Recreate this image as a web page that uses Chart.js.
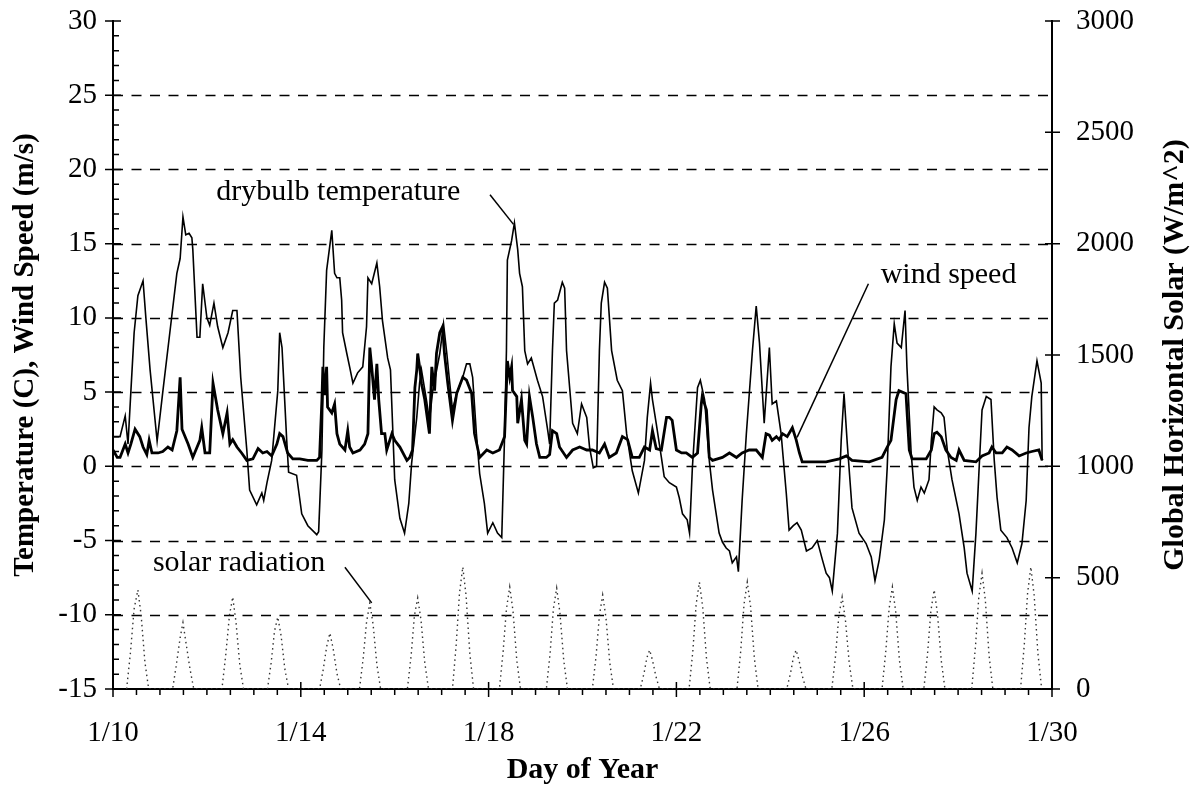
<!DOCTYPE html>
<html>
<head>
<meta charset="utf-8">
<script src="https://cdn.jsdelivr.net/npm/chart.js@4.4.1/dist/chart.umd.min.js"></script>
<style>
  html, body { margin: 0; padding: 0; background: #fff; }
  #wrap { width: 1197px; height: 791px; }
</style>
</head>
<body>
<div id="wrap"><canvas id="graph" width="1197" height="791"></canvas></div>
<script>
"use strict";

// drybulb temperature (C), day of year (1/10 = 10)
const temp_days = [
  10.00, 10.15, 10.26, 10.32, 10.38, 10.45, 10.53, 10.64, 10.70, 10.79,
  10.94, 11.06, 11.21, 11.36, 11.43, 11.49, 11.55, 11.62, 11.68, 11.70,
  11.79, 11.85, 11.91, 12.00, 12.06, 12.15, 12.23, 12.34, 12.45, 12.55,
  12.64, 12.72, 12.85, 12.91, 13.06, 13.17, 13.21, 13.28, 13.38, 13.51,
  13.55, 13.60, 13.70, 13.74, 13.91, 14.02, 14.15, 14.34, 14.38, 14.45,
  14.49, 14.55, 14.66, 14.72, 14.77, 14.83, 14.87, 14.89, 14.98, 15.04,
  15.11, 15.21, 15.32, 15.40, 15.43, 15.51, 15.62, 15.68, 15.74, 15.85,
  15.91, 16.00, 16.11, 16.21, 16.30, 16.36, 16.47, 16.53, 16.57, 16.68,
  16.74, 16.81, 16.96, 17.04, 17.11, 17.23, 17.32, 17.45, 17.53, 17.60,
  17.66, 17.74, 17.81, 17.91, 17.98, 18.09, 18.19, 18.28, 18.34, 18.38,
  18.40, 18.49, 18.55, 18.62, 18.66, 18.72, 18.77, 18.83, 18.91, 19.04,
  19.15, 19.26, 19.30, 19.36, 19.40, 19.47, 19.57, 19.62, 19.66, 19.79,
  19.89, 19.98, 20.09, 20.15, 20.23, 20.30, 20.36, 20.40, 20.47, 20.53,
  20.62, 20.74, 20.85, 20.94, 21.06, 21.19, 21.32, 21.38, 21.45, 21.49,
  21.57, 21.68, 21.74, 21.85, 22.00, 22.06, 22.13, 22.23, 22.28, 22.34,
  22.45, 22.51, 22.60, 22.70, 22.77, 22.91, 22.98, 23.06, 23.13, 23.19,
  23.28, 23.32, 23.40, 23.49, 23.62, 23.70, 23.77, 23.87, 23.98, 24.04,
  24.13, 24.23, 24.34, 24.40, 24.49, 24.57, 24.66, 24.77, 24.89, 25.00,
  25.11, 25.19, 25.26, 25.32, 25.43, 25.51, 25.57, 25.64, 25.74, 25.89,
  26.04, 26.15, 26.23, 26.32, 26.43, 26.49, 26.57, 26.64, 26.70, 26.79,
  26.87, 26.91, 27.00, 27.06, 27.13, 27.21, 27.28, 27.38, 27.43, 27.49,
  27.55, 27.64, 27.70, 27.77, 27.87, 28.02, 28.13, 28.19, 28.30, 28.38,
  28.45, 28.51, 28.60, 28.70, 28.77, 28.83, 28.91, 29.04, 29.15, 29.26,
  29.36, 29.45, 29.51, 29.57, 29.68, 29.77, 29.79
];
const temp_vals = [
  2.0, 2.0, 3.4, 1.5, 5.0, 9.0, 11.5, 12.5, 10.0, 6.5,
  1.7, 5.0, 9.0, 13.0, 14.0, 16.8, 15.6, 15.7, 15.4, 14.6,
  8.7, 8.7, 12.3, 10.0, 9.5, 11.0, 9.4, 8.0, 9.0, 10.5,
  10.5, 6.0, 1.1, -1.6, -2.6, -1.8, -2.3, -1.1, 0.4, 5.1,
  9.0, 8.0, 1.75, -0.4, -0.6, -3.2, -4.0, -4.6, -4.4, 1.1,
  8.0, 13.2, 15.9, 13.0, 12.7, 12.7, 11.2, 9.0, 7.6, 6.7,
  5.6, 6.3, 6.7, 9.4, 12.7, 12.3, 13.7, 12.1, 9.8, 7.3,
  6.5, -0.9, -3.5, -4.5, -2.5, 0.2, 3.3, 5.6, 6.5, 4.4,
  3.1, 5.1, 7.6, 9.6, 7.6, 3.8, 4.9, 6.0, 6.9, 6.9,
  6.0, 2.2, -0.5, -2.5, -4.5, -3.8, -4.5, -4.8, 2.0, 7.8,
  13.9, 15.2, 16.4, 14.6, 13.0, 12.1, 7.8, 6.9, 7.3, 5.8,
  4.7, 2.4, 1.5, 7.8, 11.0, 11.2, 12.4, 12.0, 7.8, 2.9,
  2.2, 4.2, 3.3, 1.3, -0.1, 0.0, 7.8, 11.0, 12.4, 12.0,
  7.8, 5.8, 5.1, 2.2, -0.3, -1.8, 0.4, 3.3, 5.6, 4.5,
  2.9, 0.6, -0.7, -1.1, -1.4, -2.1, -3.2, -3.6, -4.5, -0.1,
  5.3, 5.8, 4.5, 0.4, -1.6, -4.5, -5.1, -5.5, -5.7, -6.5,
  -6.1, -7.1, -2.3, 2.2, 7.8, 10.8, 8.3, 2.9, 8.0, 4.2,
  4.4, 2.2, -1.8, -4.3, -4.0, -3.8, -4.3, -5.7, -5.5, -5.0,
  -6.3, -7.2, -7.5, -8.4, -4.5, 1.75, 4.9, 1.5, -2.8, -4.5,
  -5.2, -6.1, -7.7, -6.3, -3.6, -0.1, 6.7, 9.6, 8.3, 8.0,
  10.5, 6.7, 0.9, -1.4, -2.3, -1.4, -1.8, -0.9, 1.75, 4.0,
  3.8, 3.6, 3.3, 1.1, -0.9, -3.2, -5.5, -7.2, -8.4, -4.5,
  0.0, 3.8, 4.7, 4.5, 0.4, -2.1, -4.3, -4.8, -5.5, -6.5,
  -5.2, -2.3, 2.6, 4.7, 7.1, 5.6, 0.4
];

// wind speed (m/s)
const wind_days = [
  10.00, 10.09, 10.15, 10.26, 10.32, 10.38, 10.47, 10.57, 10.64, 10.72,
  10.77, 10.83, 10.96, 11.06, 11.17, 11.26, 11.36, 11.43, 11.47, 11.60,
  11.70, 11.85, 11.89, 11.96, 12.06, 12.13, 12.23, 12.34, 12.43, 12.49,
  12.55, 12.64, 12.74, 12.85, 12.98, 13.09, 13.19, 13.28, 13.38, 13.49,
  13.55, 13.62, 13.72, 13.83, 13.98, 14.15, 14.34, 14.40, 14.45, 14.47,
  14.51, 14.55, 14.57, 14.66, 14.72, 14.77, 14.83, 14.94, 15.00, 15.04,
  15.11, 15.26, 15.36, 15.43, 15.47, 15.51, 15.57, 15.62, 15.66, 15.72,
  15.79, 15.83, 15.94, 16.00, 16.11, 16.26, 16.32, 16.38, 16.43, 16.47,
  16.49, 16.53, 16.57, 16.64, 16.74, 16.79, 16.85, 16.89, 16.96, 17.02,
  17.06, 17.13, 17.23, 17.32, 17.45, 17.53, 17.64, 17.70, 17.81, 17.96,
  18.09, 18.23, 18.34, 18.40, 18.45, 18.49, 18.51, 18.60, 18.62, 18.70,
  18.77, 18.81, 18.87, 18.94, 19.02, 19.09, 19.23, 19.30, 19.36, 19.45,
  19.51, 19.66, 19.79, 19.94, 20.09, 20.21, 20.36, 20.47, 20.57, 20.72,
  20.85, 20.96, 21.06, 21.21, 21.32, 21.43, 21.49, 21.57, 21.68, 21.79,
  21.85, 21.91, 22.00, 22.11, 22.21, 22.34, 22.45, 22.53, 22.55, 22.64,
  22.70, 22.77, 22.98, 23.13, 23.28, 23.40, 23.55, 23.70, 23.83, 23.91,
  23.98, 24.04, 24.13, 24.19, 24.26, 24.36, 24.47, 24.55, 24.62, 24.68,
  25.19, 25.47, 25.62, 25.74, 26.11, 26.38, 26.49, 26.57, 26.68, 26.74,
  26.89, 26.96, 27.02, 27.32, 27.43, 27.49, 27.55, 27.64, 27.74, 27.85,
  27.96, 28.02, 28.13, 28.38, 28.51, 28.66, 28.72, 28.81, 28.94, 29.04,
  29.15, 29.30, 29.45, 29.57, 29.72, 29.79
];
const wind_vals = [
  1.1, 0.6, 0.6, 1.5, 0.9, 1.5, 2.5, 2.0, 1.3, 0.8,
  1.75, 0.9, 0.9, 1.0, 1.3, 1.1, 2.4, 6.0, 2.5, 1.5,
  0.6, 1.75, 2.6, 0.9, 0.9, 5.6, 3.8, 2.2, 3.6, 1.5,
  1.8, 1.3, 0.9, 0.4, 0.5, 1.2, 0.9, 1.0, 0.7, 1.5,
  2.2, 2.0, 0.9, 0.5, 0.5, 0.4, 0.4, 0.6, 4.5, 6.7,
  4.8, 6.7, 4.0, 3.6, 4.2, 2.2, 1.5, 1.1, 2.4, 1.3,
  0.9, 1.1, 1.5, 2.2, 8.0, 6.7, 4.5, 6.9, 4.5, 2.2,
  2.2, 1.1, 2.2, 1.75, 1.3, 0.4, 0.6, 1.1, 5.3, 6.5,
  7.6, 6.7, 5.6, 4.5, 2.2, 6.7, 5.1, 7.6, 9.0, 9.4,
  7.6, 5.6, 3.1, 4.9, 6.0, 5.8, 4.9, 2.2, 0.6, 1.1,
  0.9, 1.1, 2.0, 7.1, 6.0, 6.7, 5.1, 4.7, 2.9, 4.5,
  1.75, 1.5, 4.7, 3.3, 1.5, 0.6, 0.6, 0.8, 2.4, 2.2,
  1.3, 0.6, 1.1, 1.3, 1.1, 1.1, 0.9, 1.5, 0.6, 0.9,
  2.0, 1.8, 0.6, 0.6, 1.3, 1.1, 2.4, 1.2, 1.1, 3.3,
  3.3, 3.1, 1.1, 0.9, 0.9, 0.6, 0.9, 4.2, 4.7, 3.8,
  0.6, 0.4, 0.6, 0.9, 0.6, 0.9, 1.1, 1.1, 0.6, 2.2,
  2.1, 1.75, 2.0, 1.8, 2.2, 2.0, 2.6, 1.8, 0.9, 0.3,
  0.3, 0.5, 0.7, 0.4, 0.3, 0.6, 1.3, 1.75, 4.5, 5.1,
  4.9, 1.1, 0.5, 0.5, 1.1, 2.2, 2.3, 2.0, 1.1, 0.6,
  0.4, 1.1, 0.4, 0.3, 0.7, 0.9, 1.3, 0.9, 0.9, 1.3,
  1.1, 0.7, 0.9, 1.0, 1.1, 0.4
];

// global horizontal solar (W/m^2), one row per day
const solar_days = [
  10.29, 10.37, 10.45, 10.53, 10.60, 10.68, 10.76,
  11.27, 11.35, 11.43, 11.49, 11.56, 11.64, 11.72,
  12.32, 12.40, 12.48, 12.55, 12.62, 12.70, 12.78,
  13.29, 13.37, 13.44, 13.51, 13.58, 13.66, 13.74,
  14.40, 14.48, 14.55, 14.62, 14.69, 14.77, 14.85,
  15.25, 15.33, 15.40, 15.47, 15.54, 15.62, 15.70,
  16.27, 16.35, 16.42, 16.49, 16.56, 16.64, 16.72,
  17.23, 17.31, 17.38, 17.45, 17.52, 17.60, 17.68,
  18.23, 18.31, 18.38, 18.45, 18.52, 18.60, 18.68,
  19.23, 19.31, 19.38, 19.45, 19.52, 19.60, 19.68,
  20.21, 20.29, 20.36, 20.43, 20.50, 20.58, 20.66,
  21.23, 21.31, 21.37, 21.43, 21.49, 21.56, 21.64,
  22.27, 22.35, 22.42, 22.49, 22.56, 22.64, 22.72,
  23.29, 23.37, 23.44, 23.51, 23.58, 23.66, 23.74,
  24.35, 24.43, 24.49, 24.55, 24.61, 24.68, 24.76,
  25.31, 25.39, 25.46, 25.53, 25.60, 25.68, 25.76,
  26.38, 26.46, 26.53, 26.60, 26.67, 26.75, 26.83,
  27.27, 27.35, 27.42, 27.49, 27.56, 27.64, 27.72,
  28.29, 28.37, 28.44, 28.51, 28.58, 28.66, 28.74,
  29.33, 29.41, 29.48, 29.55, 29.62, 29.70, 29.78
];
const solar_vals = [
  0, 160, 360, 445, 330, 120, 0,
  0, 110, 230, 298, 200, 90, 0,
  0, 150, 330, 413, 300, 110, 0,
  0, 120, 260, 323, 240, 90, 0,
  0, 90, 190, 251, 180, 70, 0,
  0, 140, 300, 386, 290, 110, 0,
  0, 150, 330, 409, 310, 120, 0,
  0, 200, 430, 548, 420, 160, 0,
  0, 170, 360, 458, 350, 130, 0,
  0, 160, 360, 453, 340, 130, 0,
  0, 150, 330, 422, 320, 120, 0,
  0, 70, 140, 175, 130, 60, 0,
  0, 170, 380, 480, 370, 140, 0,
  0, 170, 380, 480, 370, 140, 0,
  0, 70, 140, 175, 130, 60, 0,
  0, 150, 330, 413, 310, 120, 0,
  0, 170, 360, 458, 350, 130, 0,
  0, 160, 350, 445, 340, 130, 0,
  0, 190, 410, 520, 400, 150, 0,
  0, 200, 430, 548, 420, 160, 0
];

// callout labels and their leader lines (day, left-axis value)
const note_texts = ["drybulb temperature", "wind speed", "solar radiation"];
const note_days = [12.2, 26.35, 10.85];
const note_vals = [18.5, 12.9, -6.5];
const leader_temp_days = [18.03, 18.53];
const leader_temp_vals = [18.3, 16.3];
const leader_wind_days = [26.09, 24.57];
const leader_wind_vals = [12.3, 1.95];
const leader_solar_days = [14.94, 15.51];
const leader_solar_vals = [-6.8, -9.2];

const font_family = '"Liberation Serif", "Times New Roman", serif';

function to_points(xs, ys) {
  return xs.map((x, i) => ({ x: x, y: ys[i] }));
}

// dashed gridlines, tick marks, callout text and the right title
const marks_plugin = {
  id: "marks",
  beforeDatasetsDraw(chart) {
    const { ctx, chartArea: area, scales } = chart;
    ctx.save();
    ctx.strokeStyle = "#000";
    ctx.lineWidth = 1.4;
    ctx.setLineDash([10, 8.5]);
    scales.y.ticks.forEach((t) => {
      if (t.value <= -15 || t.value >= 30) return;
      const py = Math.round(scales.y.getPixelForValue(t.value)) + 0.5;
      ctx.beginPath();
      ctx.moveTo(area.left, py);
      ctx.lineTo(area.right, py);
      ctx.stroke();
    });
    ctx.restore();
  },
  afterDraw(chart) {
    const { ctx, chartArea: area, scales } = chart;
    ctx.save();
    ctx.strokeStyle = "#000";
    ctx.lineWidth = 1.5;
    ctx.setLineDash([]);
    ctx.beginPath();
    // x axis: half-day minor ticks, 4-day major ticks
    for (let d = 10; d <= 30.001; d += 0.5) {
      const px = scales.x.getPixelForValue(d);
      const major = Math.abs((d - 10) % 4) < 0.001;
      ctx.moveTo(px, major ? area.bottom - 7 : area.bottom);
      ctx.lineTo(px, area.bottom + (major ? 8 : 6));
    }
    // left axis: unit minor ticks inside, majors across
    for (let v = -15; v <= 30; v += 1) {
      const py = scales.y.getPixelForValue(v);
      const major = v % 5 === 0;
      ctx.moveTo(major ? area.left - 8 : area.left, py);
      ctx.lineTo(area.left + (major ? 8 : 6), py);
    }
    // right axis
    scales.y2.ticks.forEach((t) => {
      const py = scales.y2.getPixelForValue(t.value);
      ctx.moveTo(area.right - 7, py);
      ctx.lineTo(area.right + 8, py);
    });
    ctx.stroke();

    // callouts
    ctx.fillStyle = "#000";
    ctx.font = "30px " + font_family;
    ctx.textAlign = "left";
    ctx.textBaseline = "middle";
    note_texts.forEach((txt, i) => {
      ctx.fillText(txt, scales.x.getPixelForValue(note_days[i]), scales.y.getPixelForValue(note_vals[i]));
    });

    // right axis title, reading bottom to top
    ctx.font = "bold 30px " + font_family;
    ctx.textAlign = "center";
    ctx.translate(chart.width - 22, (area.top + area.bottom) / 2);
    ctx.rotate(-Math.PI / 2);
    ctx.fillText("Global Horizontal Solar (W/m^2)", 0, 0);
    ctx.restore();
  },
};

const tick_font = { family: font_family, size: 29 };
const title_font = { family: font_family, size: 29, weight: "bold" };

const line_set = (label, data, width, axis) => ({
  label: label,
  data: data,
  yAxisID: axis,
  borderColor: "#000",
  borderWidth: width,
  pointRadius: 0,
  tension: 0,
  fill: false,
});

const solar_set = line_set("solar radiation", to_points(solar_days, solar_vals), 1.4, "y2");
solar_set.borderColor = "#333";
solar_set.borderDash = [1.5, 3.5];

// fixed axis box sizes; drop the label overflow padding so the plot starts at the top padding
const fix_width = (w) => (scale) => {
  scale.width = w;
  scale.paddingTop = 0;
  scale.paddingBottom = 0;
};

const config = {
  type: "line",
  data: {
    datasets: [
      solar_set,
      line_set("drybulb temperature", to_points(temp_days, temp_vals), 1.6, "y"),
      line_set("wind speed", to_points(wind_days, wind_vals), 2.8, "y"),
      line_set("leader temp", to_points(leader_temp_days, leader_temp_vals), 1.5, "y"),
      line_set("leader wind", to_points(leader_wind_days, leader_wind_vals), 1.5, "y"),
      line_set("leader solar", to_points(leader_solar_days, leader_solar_vals), 1.5, "y"),
    ],
  },
  options: {
    responsive: false,
    animation: false,
    events: [],
    layout: { padding: { top: 21, left: 0, right: 0, bottom: 0 } },
    plugins: { legend: { display: false }, tooltip: { enabled: false } },
    scales: {
      x: {
        type: "linear",
        min: 10,
        max: 30,
        ticks: {
          stepSize: 4,
          autoSkip: false,
          maxRotation: 0,
          padding: 27,
          color: "#000",
          font: tick_font,
          callback: (v) => "1/" + v,
        },
        grid: { display: false, drawTicks: false },
        border: { display: true, color: "#000", width: 2 },
        title: {
          display: true,
          text: "Day of Year",
          color: "#000",
          font: { family: font_family, size: 30, weight: "bold" },
          padding: { top: 0, bottom: 3 },
        },
        afterFit: (scale) => {
          scale.height = 102;
        },
      },
      y: {
        position: "left",
        min: -15,
        max: 30,
        ticks: { stepSize: 5, padding: 16, color: "#000", font: tick_font },
        grid: { display: false, drawTicks: false },
        border: { display: true, color: "#000", width: 2 },
        title: {
          display: true,
          text: "Temperature (C), Wind Speed (m/s)",
          color: "#000",
          font: title_font,
          padding: { top: 8, bottom: 0 },
        },
        afterFit: fix_width(113),
      },
      y2: {
        position: "right",
        min: 0,
        max: 3000,
        ticks: {
          stepSize: 500,
          padding: 24,
          color: "#000",
          font: tick_font,
          callback: (v) => String(v),
        },
        grid: { display: false, drawTicks: false },
        border: { display: true, color: "#000", width: 2 },
        afterFit: fix_width(145),
      },
    },
  },
  plugins: [marks_plugin],
};

new Chart(document.getElementById("graph"), config);
</script>
</body>
</html>
